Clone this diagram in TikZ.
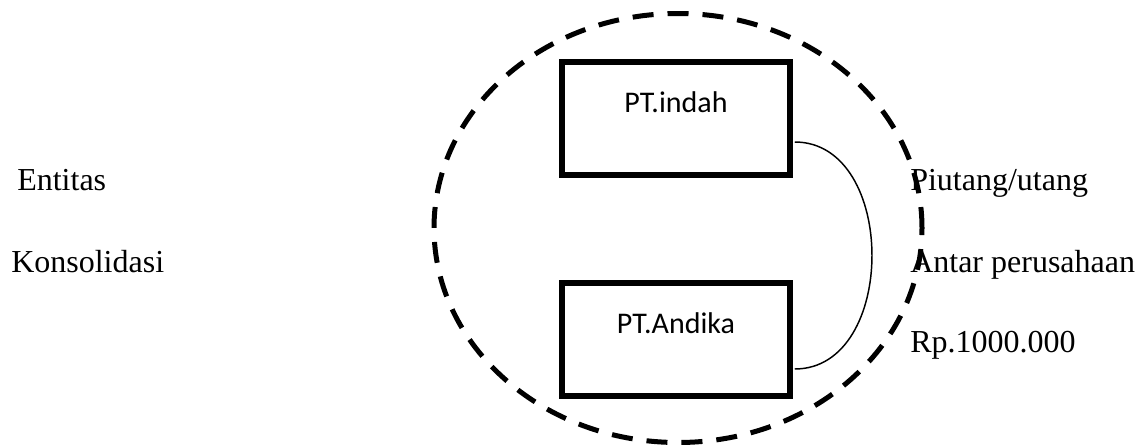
\documentclass[tikz,border=0pt]{standalone}
\usepackage{fontspec}
\setmainfont{Liberation Serif}
\newfontfamily\boxfont{Carlito}
\usetikzlibrary{shapes.geometric,calc}
\begin{document}
\begin{tikzpicture}[x=0.75pt,y=-0.75pt,
  outertext/.style={anchor=base west,inner sep=0pt,font=\fontsize{24}{28}\selectfont},
  entitybox/.style={draw,line width=4.1pt,minimum width=228*0.75pt,minimum height=113*0.75pt,
     inner sep=0pt,text height=15pt,text depth=24pt,font=\boxfont\fontsize{22.5}{26}\selectfont},
  groupring/.style={draw,ellipse,line width=3.75pt,dash pattern=on 15.75pt off 10.5pt,
     minimum width=488*0.75pt,minimum height=429*0.75pt,inner sep=0pt},
  link/.style={line width=1.1pt}]
\useasboundingbox (0,0) rectangle (1142,446);
% outside labels
\node[outertext] (entitas) at (17,190) {Entitas};
\node[outertext] (konsol) at (11,272) {Konsolidasi};
\node[outertext] (piutang) at (910,190) {Piutang/utang};
\node[outertext] (antar) at (910,272) {Antar perusahaan};
\node[outertext] (rp) at (910,352) {Rp.1000.000};
% boxes
\node[entitybox] (indah) at (676,118.5) {PT.indah};
\node[entitybox] (andika) at (676,339.5) {PT.Andika};
% connector
\draw[link] ($(indah.east)+(2,23.5)$) .. controls +(103,0) and +(103,0) .. ($(andika.east)+(2,29.5)$);
% dashed group ellipse
\node[groupring] (group) at (678,228) {};
\end{tikzpicture}
\end{document}
